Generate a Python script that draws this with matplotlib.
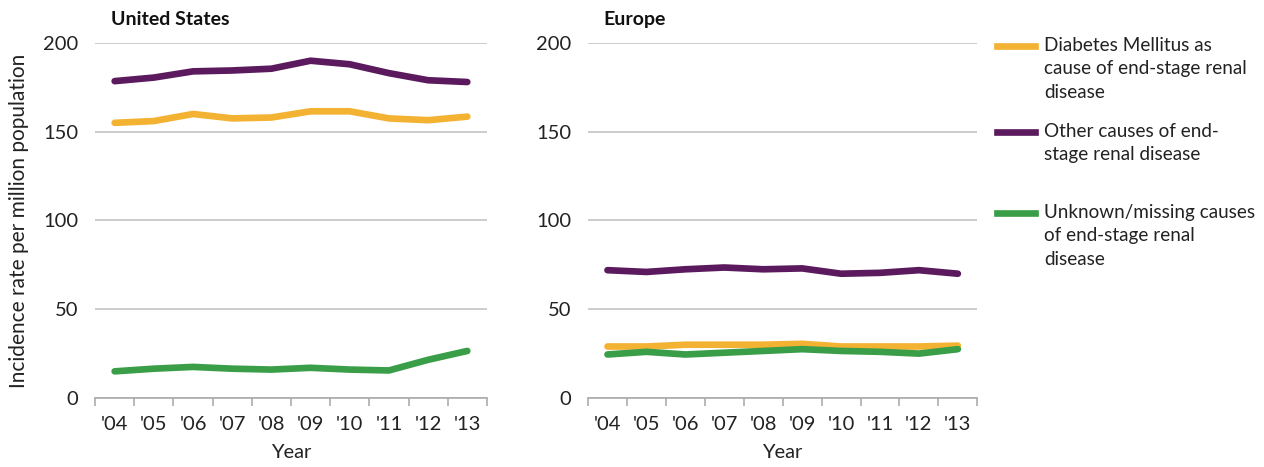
import numpy as np
import matplotlib
matplotlib.use("Agg")
import matplotlib.pyplot as plt
from matplotlib.lines import Line2D

plt.rcParams['font.family'] = ['Lato', 'DejaVu Sans']

# Data
years = ["'04", "'05", "'06", "'07", "'08", "'09", "'10", "'11", "'12", "'13"]

us_diabetes = [155, 156, 160, 157.5, 158, 161.5, 161.5, 157.5, 156.5, 158.5]
us_other = [178.5, 180.5, 184, 184.5, 185.5, 190, 188, 183, 179, 178]
us_unknown = [15, 16.5, 17.5, 16.5, 16, 17, 16, 15.5, 21.5, 26.5]

eu_diabetes = [29, 29, 30, 30, 30, 30.5, 29, 29, 29, 29.5]
eu_other = [72, 71, 72.5, 73.5, 72.5, 73, 70, 70.5, 72, 70]
eu_unknown = [24.5, 26, 24.5, 25.5, 26.5, 27.5, 26.5, 26, 25, 27.5]

labels = ["Diabetes Mellitus as\ncause of end-stage renal\ndisease",
          "Other causes of end-\nstage renal disease",
          "Unknown/missing causes\nof end-stage renal\ndisease"]
colors = ["#F4B233", "#5B1A5E", "#3A9D47"]

fs = 14.5

fig = plt.figure(figsize=(12.64, 4.67), dpi=100)
ax1 = fig.add_axes([0.0752, 0.1478, 0.310, 0.7602])
ax2 = fig.add_axes([0.4652, 0.1478, 0.308, 0.7602])

x = np.arange(len(years))

def style(ax, title):
    ax.set_xlim(-0.5, len(years) - 0.5)
    ax.set_ylim(0, 200)
    ax.set_yticks([0, 50, 100, 150, 200])
    ax.yaxis.grid(True, color="#BFBFBF", linewidth=1.1)
    ax.set_axisbelow(True)
    for s in ["left", "right", "top"]:
        ax.spines[s].set_visible(False)
    ax.spines["bottom"].set_color("#A6A6A6")
    ax.spines["bottom"].set_linewidth(1.1)
    ax.tick_params(axis="y", length=0, labelsize=fs, pad=12, labelcolor="#222222")
    # boundary ticks without labels, labels at category centres
    ax.set_xticks(np.arange(-0.5, len(years)), minor=False)
    ax.set_xticklabels([])
    ax.set_xticks(x, minor=True)
    ax.set_xticklabels(years, minor=True)
    ax.tick_params(axis="x", which="major", length=6, color="#A6A6A6", width=1.1)
    ax.tick_params(axis="x", which="minor", length=0, pad=13, labelsize=fs, labelcolor="#222222")
    ax.set_xlabel("Year", fontsize=fs, labelpad=8, color="#222222")
    ax.text(0.04, 1.05, title, transform=ax.transAxes, fontsize=fs - 0.5,
            fontweight="bold", ha="left", va="baseline", color="#111111")

lw = 4.8
ax1.plot(x, us_diabetes, color=colors[0], lw=lw, solid_capstyle="round")
ax1.plot(x, us_other, color=colors[1], lw=lw, solid_capstyle="round")
ax1.plot(x, us_unknown, color=colors[2], lw=lw, solid_capstyle="round")
style(ax1, "United States")
ax1.set_ylabel("Incidence rate per million population", fontsize=fs + 0.5, labelpad=10, color="#222222")

ax2.plot(x, eu_other, color=colors[1], lw=lw, solid_capstyle="round")
ax2.plot(x, eu_diabetes, color=colors[0], lw=lw, solid_capstyle="round")
ax2.plot(x, eu_unknown, color=colors[2], lw=lw, solid_capstyle="round")
style(ax2, "Europe")

# legend drawn by hand, handle aligned with first text line
leg_y = [1 - 46 / 467, 1 - 132 / 467, 1 - 213 / 467]
for lab, c, yy in zip(labels, colors, leg_y):
    fig.add_artist(Line2D([997 / 1264, 1035 / 1264], [yy, yy], color=c, lw=4.8,
                          transform=fig.transFigure))
    fig.text(1044 / 1264, yy + 9 / 467, lab, fontsize=13.6, va="top", ha="left",
             linespacing=1.45, color="#222222")

fig.savefig("out.png", dpi=100)
